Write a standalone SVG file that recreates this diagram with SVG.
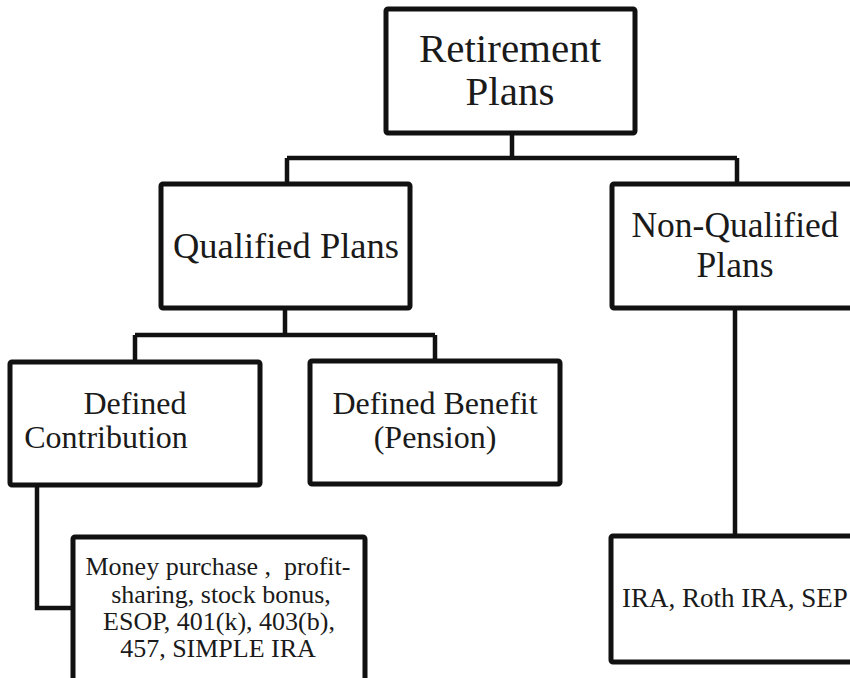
<svg xmlns="http://www.w3.org/2000/svg" width="850" height="678" viewBox="0 0 850 678">
<style>
.box{fill:#fff;stroke:#111;stroke-width:5;stroke-linejoin:round}
.ln{fill:none;stroke:#111;stroke-width:4.5;stroke-linejoin:miter}
text{font-family:"Liberation Serif","Times New Roman",serif;fill:#1a1a1a;text-anchor:middle}
</style>
<rect width="850" height="678" fill="#fff"/>
<g id="connectors">
<path class="ln" d="M512 133 V158 M287 158 H737 M287 158 V184 M737 158 V184"/>
<path class="ln" d="M285 308 V335 M135 335 H435 M135 335 V362 M435 335 V361"/>
<path class="ln" d="M37 485 V608 H73"/>
<path class="ln" d="M735 308 V536"/>
</g>
<g id="root">
<rect class="box" x="386" y="9" width="249" height="124" rx="2"/>
<text x="510" y="62" font-size="41">Retirement</text>
<text x="510" y="105" font-size="41">Plans</text>
</g>
<g id="qualified">
<rect class="box" x="161" y="184" width="249" height="124" rx="2"/>
<text x="286" y="258" font-size="36.5">Qualified Plans</text>
</g>
<g id="nonqualified">
<rect class="box" x="612" y="184" width="250" height="124" rx="2"/>
<text x="735" y="237" font-size="35.5">Non-Qualified</text>
<text x="735" y="277" font-size="35.5">Plans</text>
</g>
<g id="defined-contribution">
<rect class="box" x="10" y="362" width="250" height="123" rx="2"/>
<text x="135" y="414" font-size="32">Defined</text>
<text x="106" y="448" font-size="32">Contribution</text>
</g>
<g id="defined-benefit">
<rect class="box" x="310" y="361" width="250" height="123" rx="2"/>
<text x="435" y="414" font-size="32">Defined Benefit</text>
<text x="435" y="448" font-size="32">(Pension)</text>
</g>
<g id="dc-examples">
<rect class="box" x="73" y="537" width="292" height="160" rx="2"/>
<text x="218" y="575" font-size="26" xml:space="preserve">Money purchase ,  profit-</text>
<text x="221" y="603" font-size="26">sharing, stock bonus,</text>
<text x="219" y="630" font-size="26">ESOP, 401(k), 403(b),</text>
<text x="218" y="657" font-size="26">457, SIMPLE IRA</text>
</g>
<g id="nq-examples">
<rect class="box" x="611" y="536" width="249" height="126" rx="2"/>
<text x="735" y="607" font-size="27">IRA, Roth IRA, SEP</text>
</g>
</svg>
